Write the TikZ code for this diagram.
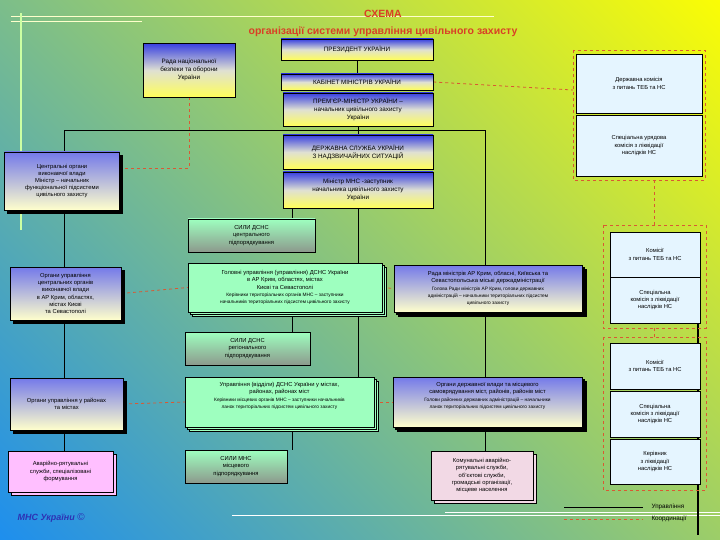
\documentclass[tikz,border=0pt]{standalone}
\usepackage{fontspec}
\setmainfont{Liberation Sans}
\usetikzlibrary{shadows,backgrounds}
\definecolor{bgblue}{rgb}{0.1,0.55,0.95}
\definecolor{bgmid}{rgb}{0.62,0.8,0.75}
\definecolor{bgyel}{rgb}{1,1,0}
\definecolor{coord}{rgb}{0.85,0.35,0.2}
\definecolor{ttl}{rgb}{0.85,0.25,0.15}
\definecolor{dblue}{rgb}{0.22,0.25,0.88}
\definecolor{yel}{rgb}{1,1,0.35}
\definecolor{lyel}{rgb}{1,1,0.8}
\definecolor{lgreen}{rgb}{0.62,1,0.75}
\definecolor{sgrey}{rgb}{0.55,0.6,0.55}
\definecolor{lwhite}{rgb}{0.9,0.96,1}
\definecolor{pinkA}{rgb}{1,0.75,1}
\definecolor{pinkB}{rgb}{0.95,0.85,0.9}
\tikzset{
  base/.style={draw=black,line width=0.5pt,align=center,inner sep=1pt,font=\fontsize{5.8}{7.2}\selectfont},
  byel/.style={base,top color=dblue,bottom color=yel,middle color=yel!60!dblue!40,font=\fontsize{6.3}{8}\selectfont},
  bcent/.style={base,top color=dblue!70!white,bottom color=lyel},
  bgrn/.style={base,fill=lgreen},
  bsil/.style={base,top color=lgreen,bottom color=sgrey},
  bwht/.style={base,fill=lwhite},
  shad/.style={copy shadow={shadow xshift=3pt,shadow yshift=-3pt}},
  stk/.style={double copy shadow={shadow xshift=2pt,shadow yshift=-2pt}},
  crd/.style={draw=coord,dashed,line width=0.8pt},
  ctl/.style={draw=black,line width=0.6pt},
  grp/.style={draw=coord,dashed,line width=0.9pt},
}
\begin{document}
\begin{tikzpicture}[x=1pt,y=-1pt]
\useasboundingbox (0,0) rectangle (720,540);
% title
\node[text=ttl,font=\bfseries\fontsize{10.5}{12}\selectfont] (t1) at (383,14) {СХЕМА};
\node[text=ttl,font=\bfseries\fontsize{10.5}{12}\selectfont] (t2) at (383,32) {організації системи управління цивільного захисту};
% nodes
\node[byel,minimum width=152pt,minimum height=21pt] (pres) at (357,49.5) {ПРЕЗИДЕНТ УКРАЇНИ};
\node[byel,minimum width=152pt,minimum height=16pt] (kab) at (357,82) {КАБІНЕТ МІНІСТРІВ УКРАЇНИ};
\node[byel,minimum width=150pt,minimum height=33pt] (prem) at (358,109.5) {ПРЕМ'ЄР-МІНІСТР УКРАЇНИ –\\начальник цивільного захисту\\України};
\node[byel,minimum width=150pt,minimum height=34pt] (dsns) at (358,152) {ДЕРЖАВНА СЛУЖБА УКРАЇНИ\\З НАДЗВИЧАЙНИХ СИТУАЦІЙ};
\node[byel,minimum width=150pt,minimum height=36pt] (min) at (358,190) {Міністр МНС -заступник\\начальника цивільного захисту\\України};
\node[byel,minimum width=92pt,minimum height=54pt,anchor=north] (rnbo) at (189,43) {Рада національної\\безпеки та оборони\\України};
\node[bcent,shad,minimum width=115pt,minimum height=58pt] (cent) at (62,181) {Центральні органи\\виконавчої влади\\Міністр – начальник\\функціональної підсистеми\\цивільного захисту};
\node[bwht,minimum width=126pt,minimum height=59pt] (dk) at (639,83.5) {Державна комісія\\з питань ТЕБ та НС};
\node[bwht,minimum width=126pt,minimum height=61pt] (suk) at (639,145.5) {Спеціальна урядова\\комісія з ліквідації\\наслідків НС};
\draw[grp] (573,50) rectangle (705,180);
\coordinate (g1w) at (573,90); \coordinate (g1s) at (654,180);
\node[bsil,minimum width=127pt,minimum height=33pt] (syc) at (251.5,235.5) {СИЛИ ДСНС\\центрального\\підпорядкування};
\node[bgrn,stk,minimum width=194pt,minimum height=49pt] (gol) at (285,287.5) {Головні управління (управління) ДСНС України\\в АР Крим, областях, містах\\Києві та Севастополі\\{\fontsize{4.8}{6}\selectfont Керівники територіальних органів МНС – заступники}\\{\fontsize{4.8}{6}\selectfont начальників територіальних підсистем цивільного захисту}};
\node[bcent,stk,minimum width=188pt,minimum height=47pt] (rmin) at (488,288.5) {Рада міністрів АР Крим, обласні, Київська та\\Севастопольська міські держадміністрації\\{\fontsize{4.8}{6}\selectfont Голова Ради міністрів АР Крим, голови державних}\\{\fontsize{4.8}{6}\selectfont адміністрацій – начальники територіальних підсистем}\\{\fontsize{4.8}{6}\selectfont цивільного захисту}};
\node[bcent,shad,minimum width=111pt,minimum height=53pt] (ouc) at (65.5,293.5) {Органи управління\\центральних органів\\виконавчої влади\\в АР Крим, областях,\\містах Києві\\та Севастополі};
\node[bsil,minimum width=125pt,minimum height=33pt] (syr) at (247.5,348.5) {СИЛИ ДСНС\\регіонального\\підпорядкування};
\draw[grp] (603,225) rectangle (706,328);
\coordinate (gAn) at (654,225); \coordinate (gAs) at (654,328);
\node[bwht,minimum width=90pt,minimum height=45pt] (kom1) at (655,254.5) {Комісії\\з питань ТЕБ та НС};
\node[bwht,minimum width=90pt,minimum height=46pt] (sp1) at (655,300) {Спеціальна\\комісія з ліквідації\\наслідків НС};
\draw[grp] (603,337) rectangle (706,490);
\coordinate (gBn) at (654,337);
\node[bwht,minimum width=90pt,minimum height=46pt] (kom2) at (655,366) {Комісії\\з питань ТЕБ та НС};
\node[bwht,minimum width=90pt,minimum height=46pt] (sp2) at (655,414) {Спеціальна\\комісія з ліквідації\\наслідків НС};
\node[bwht,minimum width=90pt,minimum height=45pt] (ker) at (655,461.5) {Керівник\\з ліквідації\\наслідків НС};
\node[bcent,shad,minimum width=113pt,minimum height=52pt] (our) at (66.5,404) {Органи управління у районах\\та містах};
\node[bgrn,stk,minimum width=189pt,minimum height=50pt] (upr) at (279.5,402) {Управління (відділи) ДСНС України у містах,\\районах, районах міст\\{\fontsize{4.8}{6}\selectfont Керівники місцевих органів МНС – заступники начальників}\\{\fontsize{4.8}{6}\selectfont ланок територіальних підсистем цивільного захисту}\\[6pt]};
\node[bcent,stk,minimum width=189pt,minimum height=50pt] (odv) at (487.5,402) {Органи державної влади та місцевого\\самоврядування міст, районів, районів міст\\{\fontsize{4.8}{6}\selectfont Голови районних державних адміністрацій – начальники}\\{\fontsize{4.8}{6}\selectfont ланок територіальних підсистем цивільного захисту}\\[6pt]};
\node[base,fill=pinkA,shad,minimum width=105pt,minimum height=41pt] (avr) at (60.5,471.5) {Аварійно-рятувальні\\служби, спеціалізовані\\формування};
\node[bsil,minimum width=102pt,minimum height=33pt] (sym) at (236,466.5) {СИЛИ МНС\\місцевого\\підпорядкування};
\node[base,fill=pinkB,shad,minimum width=102pt,minimum height=49pt] (kom) at (482,475.5) {Комунальні аварійно-\\рятувальні служби,\\об'єктові служби,\\громадські організації,\\місцеве населення};
% legend
\coordinate (l1a) at (564,507); \coordinate (l1b) at (643,507);
\coordinate (l2a) at (564,519); \coordinate (l2b) at (643,519);
\node[font=\fontsize{6.3}{7}\selectfont,anchor=west] (lg1) at (648,507) {Управління};
\node[font=\fontsize{6.3}{7}\selectfont,anchor=west] (lg2) at (648,519) {Координації};
\draw[ctl] (l1a) -- (l1b);
\draw[crd] (l2a) -- (l2b);
\node[text=dblue!80!black,font=\itshape\bfseries\fontsize{9}{10}\selectfont,anchor=west] (mns) at (14,518) {МНС України \normalfont\fontsize{10}{10}\selectfont©};
% background and connectors
\begin{scope}[on background layer]
\begin{scope}[y=1pt]
\shade[left color=bgblue,middle color=bgmid,right color=bgyel,shading angle=135] (-150,150) rectangle (870,-690);
\end{scope}
\draw[lyel,line width=1pt] (11,17) -- (494,17);
\draw[lyel,line width=1pt] (11,22) -- (142,22);
\draw[lyel!80!green,line width=1.2pt] (21,13) -- (21,230);
\draw[white,line width=0.8pt] (232,515) -- (720,515);
\draw[white,line width=0.5pt] (445,512) -- (720,512);
\coordinate (bl) at (64,130); \coordinate (br) at (485,130);
\coordinate (xs) at (292,208);
\draw[ctl] (pres.south) -- (kab.north);
\draw[ctl] (prem.south) -- (dsns.north);
\draw[ctl] (min.south) -- (min.south |- gol.north);
\draw[ctl] (min.south |- gol.south) -- (min.south |- upr.north);
\draw[ctl] (bl |- cent.north) -- (bl) -- (br) -- (br |- rmin.north);
\draw[ctl] (bl |- cent.south) -- (bl |- ouc.north);
\draw[ctl] (bl |- ouc.south) -- (bl |- our.north);
\draw[ctl] (bl |- our.south) -- (bl |- avr.north);
\draw[ctl] (xs) -- (xs |- syc.north);
\draw[ctl] (xs |- gol.south) -- (xs |- syr.north);
\draw[ctl] (xs |- upr.south) -- (xs |- sym.north);
\draw[ctl] (br |- rmin.south) -- (br |- odv.north);
\draw[ctl] (br |- odv.south) -- (br |- kom.north);
\draw[ctl,line width=1.2pt] (698,323) -- (698,535);
\draw[crd] (kab.east) -- (g1w);
\draw[crd] (rnbo.south) -- (rnbo.south |- 0,168) -- (cent.east |- 0,168);
\draw[crd] (g1s) -- (gAn);
\draw[crd] (gAs) -- (gBn);
\draw[crd] (ouc.east) -- (gol.west);
\draw[crd] (gol.east) -- (rmin.west);
\draw[crd] (our.east) -- (upr.west);
\draw[crd] (upr.east) -- (odv.west);
\end{scope}
\end{tikzpicture}
\end{document}
